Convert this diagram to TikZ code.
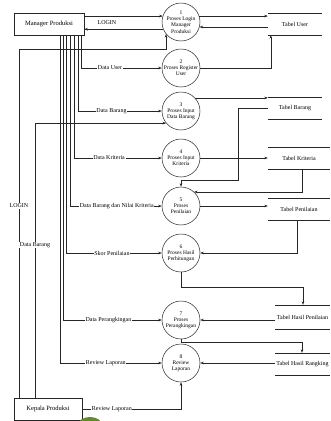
\documentclass[tikz,border=0pt]{standalone}
\usepackage{fontspec}
\setmainfont{Liberation Serif}
\usetikzlibrary{arrows.meta}
\definecolor{blob}{RGB}{96,140,42}
\begin{document}
\begin{tikzpicture}[x=1pt,y=-1pt,
  ln/.style={draw=black!85, line width=0.5pt},
  arr/.style={ln, -{Stealth[length=3.5pt,width=2.6pt]}},
  entity/.style={ln, rectangle, minimum height=22pt, inner sep=0pt, font=\fontsize{6.5}{7.5}\selectfont},
  proc/.style={ln, circle, minimum size=38pt, inner sep=0pt, align=center, font=\fontsize{5.5}{6.2}\selectfont},
  store/.style={inner sep=0pt, minimum height=22pt, font=\fontsize{6}{7}\selectfont},
  lab/.style={fill=white, inner sep=0.7pt, font=\fontsize{6}{7}\selectfont}]
\fill[white] (0,0) rectangle (330,421);
\useasboundingbox (0,0) rectangle (330,421);

% external entities
\node[entity, minimum width=70pt] (mp) at (49,24) {Manager Produksi};
\node[entity, minimum width=68pt] (kp) at (48,409) {Kepala Produksi};

% processes
\node[proc] (c1) at (181,22)  {1\\Proses Login\\Manager\\Produksi};
\node[proc] (c2) at (181,68)  {2\\Proses Register\\User};
\node[proc] (c3) at (181,111) {3\\Proses Input\\Data Barang};
\node[proc] (c4) at (181,158) {4\\Proses Input\\Kriteria};
\node[proc] (c5) at (181,206) {5\\Proses\\Penilaian};
\node[proc] (c6) at (181,253) {6\\Proses Hasil\\Perhitungan};
\node[proc] (c7) at (181,320) {7\\Proses\\Perangkingan};
\node[proc] (c8) at (181,363) {8\\Review\\Laporan};

% data stores
\node[store, minimum width=54pt] (tu)  at (295,24)    {Tabel User};
\node[store, minimum width=54pt] (tb)  at (295,108)   {Tabel Barang};
\node[store, minimum width=62pt] (tk)  at (299,158)   {Tabel Kriteria};
\node[store, minimum width=62pt] (tp)  at (299,209)   {Tabel Penilaian};
\node[store, minimum width=55pt, minimum height=24pt] (thp) at (302.5,317) {Tabel Hasil Penilaian};
\node[store, minimum width=55pt] (thr) at (302.5,364) {Tabel Hasil Rangking};
\foreach \s in {tu,tb,tk,tp,thp,thr}
  \draw[ln] (\s.north west) -- (\s.north east) (\s.south west) -- (\s.south east);

% Manager <-> login
\draw[arr] (mp.east |- c1.162) -- (c1.162);
\draw[arr] (c1.202) -- (c1.202 -| mp.east);
\node[lab] (loginlab) at (107,23) {LOGIN};

% Manager flows down the left
\draw[arr] ([xshift=32pt]mp.south) |- (c2.west) node[lab, pos=.68] {Data User};
\draw[arr] ([xshift=29pt]mp.south) |- (c3.west) node[lab, pos=.70] {Data Barang};
\draw[arr] ([xshift=25pt]mp.south) |- (c4.west) node[lab, pos=.70] {Data Kriteria};
\draw[arr] ([xshift=21pt]mp.south) |- (c5.west) node[lab, pos=.755] {Data Barang dan Nilai Kriteria};
\draw[arr] ([xshift=17pt]mp.south) |- (c6.west) node[lab, pos=.74] {Skor Penilaian};
\draw[arr] ([xshift=14pt]mp.south) |- (c7.west) node[lab, pos=.73] {Data Perangkingan};
\draw[arr] ([xshift=11pt]mp.south) |- (c8.west) node[lab, pos=.725] {Review Laporan};

% Kepala Produksi flows
\path (c1.219) ++(0,15) coordinate (k4);
\draw[arr] ([xshift=-29pt]kp.north) |- (k4) node[lab, pos=.275] {LOGIN} -- (c1.219);
\draw[arr] ([xshift=-13pt]kp.north) |- (c3.219) node[lab, pos=.278] {Data Barang};
\draw[arr] (kp.east) -| (c8.south) node[lab, pos=.15] {Review Laporan};

% data store flows
\draw[arr] (c1.18) -- (c1.18 -| tu.west);
\draw[arr] (tu.west |- c1.-15) -- (c1.-15);
\draw[arr] (c2.east) -| ([xshift=3pt]tu.south west);
\draw[arr] (c3.43) -- (c3.43 -| tb.west);
\coordinate (k1) at (238,180);
\draw[arr] (tb.west) -| (k1) -| (c5.north);
\draw[arr] (c4.east) -- (tk.west);
\draw[arr] ([xshift=3pt]tk.south) |- (c5.47);
\draw[arr] (c5.east) -- (c5.east -| tp.west);
\draw[arr] ([xshift=-2pt]tp.south) |- (c6.east);
\coordinate (k2) at (303,287);
\draw[arr] (c6.south) |- (k2) -- (k2 |- thp.north);
\draw[arr] (thp.west |- c7.east) -- (c7.east);
\coordinate (k3) at (302,342);
\draw[arr] (c7.south) |- (k3) -- (k3 |- thr.north);
\draw[arr] (thr.west |- c8.east) -- (c8.east);

% green mark at the bottom edge
\begin{scope}
  \clip (0,0) rectangle (330,421);
  \fill[blob] (90,425) ellipse (12 and 8);
\end{scope}
\end{tikzpicture}
\end{document}
